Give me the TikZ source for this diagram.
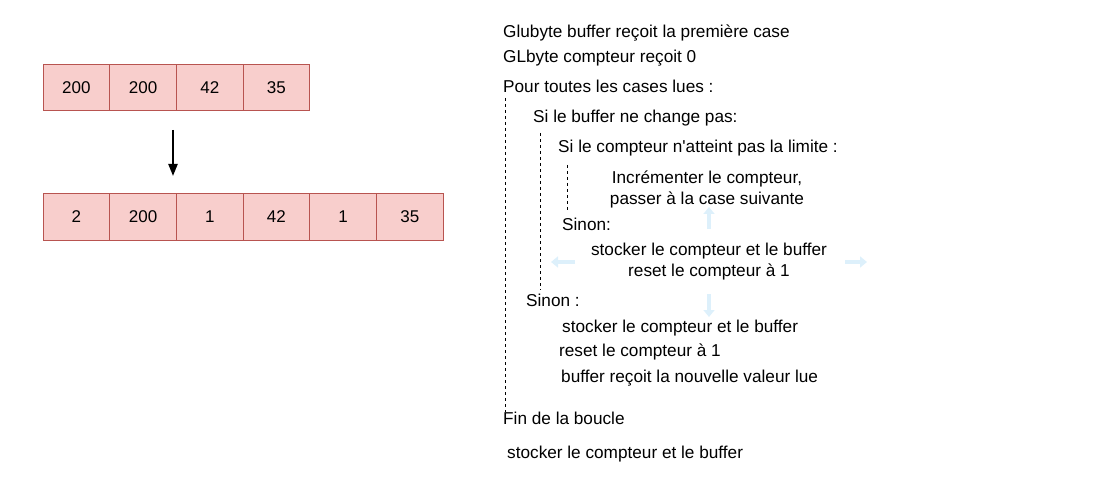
\documentclass[tikz,border=0pt]{standalone}
\usepackage{fontspec}
\setmainfont{Liberation Sans}
\usetikzlibrary{arrows.meta}
\definecolor{cellfill}{HTML}{F8CECC}
\definecolor{celldraw}{HTML}{B85450}
\definecolor{ghost}{HTML}{DDF0FB}
\tikzset{
  cell/.style={draw=celldraw, fill=cellfill, line width=1pt, outer sep=0pt, minimum width=66.7pt, minimum height=46pt, inner sep=0pt, font=\fontsize{17}{19}\selectfont},
  txt/.style={anchor=west, inner sep=0pt, font=\fontsize{17.2}{19}\selectfont},
  ctxt/.style={inner sep=0pt, align=center, font=\fontsize{17.2}{21}\selectfont},
  guide/.style={draw=black, line width=0.8pt, dash pattern=on 3pt off 3pt},
  ghostarrow/.style={draw=ghost, line width=4pt, -{Triangle[length=7pt,width=11pt]}},
}
\begin{document}
\begin{tikzpicture}[x=1pt,y=-1pt]
\useasboundingbox (0,0) rectangle (1100,489);
% top array
\node[cell, anchor=north west] (a1) at (43,65) {200};
\node[cell, anchor=west] (a2) at (a1.east) {200};
\node[cell, anchor=west] (a3) at (a2.east) {42};
\node[cell, anchor=west] (a4) at (a3.east) {35};
% bottom array
\node[cell, anchor=north west] (b1) at (43,194) {2};
\node[cell, anchor=west] (b2) at (b1.east) {200};
\node[cell, anchor=west] (b3) at (b2.east) {1};
\node[cell, anchor=west] (b4) at (b3.east) {42};
\node[cell, anchor=west] (b5) at (b4.east) {1};
\node[cell, anchor=west] (b6) at (b5.east) {35};
\coordinate (arrS) at (173,130);
\coordinate (arrE) at (173,176);
\draw[line width=2.2pt, -{Triangle[length=12pt,width=9pt]}] (arrS) -- (arrE);
% pseudo-code
\node[txt] (t1) at (503,32.5) {Glubyte buffer reçoit la première case};
\node[txt] (t2) at (503,58.5) {GLbyte compteur reçoit 0};
\node[txt] (t3) at (503,86.5) {Pour toutes les cases lues :};
\node[txt] (t4) at (533,118.5) {Si le buffer ne change pas:};
\node[txt] (t5) at (558,148.5) {Si le compteur n\textquotesingle atteint pas la limite :};
\node[ctxt] (t6) at (707,189) {Incrémenter le compteur,\\passer à la case suivante};
\node[txt] (t7) at (562,224.5) {Sinon:};
\node[ctxt] (t8) at (709,261.5) {stocker le compteur et le buffer\\reset le compteur à 1};
\node[txt] (t9) at (526,300.5) {Sinon :};
\node[txt] (t10) at (562,328.5) {stocker le compteur et le buffer};
\node[txt] (t11) at (559,351.5) {reset le compteur à 1};
\node[txt] (t12) at (561,378.5) {buffer reçoit la nouvelle valeur lue};
\node[txt] (t13) at (503,418.5) {Fin de la boucle};
\node[txt] (t14) at (507,454.5) {stocker le compteur et le buffer};
% guides
\coordinate (g1s) at (505,98); \coordinate (g1e) at (505,412);
\coordinate (g2s) at (540,133); \coordinate (g2e) at (540,290);
\coordinate (g3s) at (567,165); \coordinate (g3e) at (567,212);
\draw[guide] (g1s) -- (g1e);
\draw[guide] (g2s) -- (g2e);
\draw[guide] (g3s) -- (g3e);
% faint hover arrows
\coordinate (hu1) at (709,229); \coordinate (hu2) at (709,207);
\coordinate (hd1) at (709,294); \coordinate (hd2) at (709,317);
\coordinate (hl1) at (575,262); \coordinate (hl2) at (551,262);
\coordinate (hr1) at (845,262); \coordinate (hr2) at (867,262);
\draw[ghostarrow] (hu1) -- (hu2);
\draw[ghostarrow] (hd1) -- (hd2);
\draw[ghostarrow] (hl1) -- (hl2);
\draw[ghostarrow] (hr1) -- (hr2);
\end{tikzpicture}
\end{document}
